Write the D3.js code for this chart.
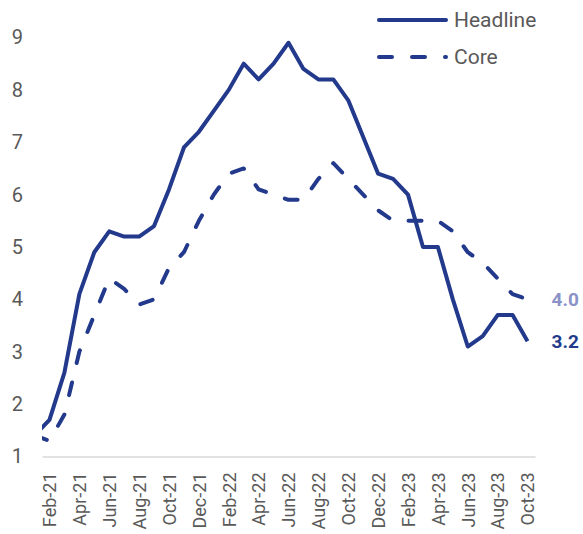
<!DOCTYPE html>
<html>
<head>
<meta charset="utf-8">
<script src="https://cdn.jsdelivr.net/npm/d3@7"></script>
<style>
  body { margin: 0; background: #fff; }
  text { font-family: Roboto, "Open Sans", sans-serif; }
</style>
</head>
<body>
<div id="chart"></div>
<script>
// Monthly y/y inflation, Jan-21 is partly cut off at the left edge
const months = [
  "Jan-21", "Feb-21", "Mar-21", "Apr-21", "May-21", "Jun-21", "Jul-21", "Aug-21", "Sep-21", "Oct-21", "Nov-21", "Dec-21",
  "Jan-22", "Feb-22", "Mar-22", "Apr-22", "May-22", "Jun-22", "Jul-22", "Aug-22", "Sep-22", "Oct-22", "Nov-22", "Dec-22",
  "Jan-23", "Feb-23", "Mar-23", "Apr-23", "May-23", "Jun-23", "Jul-23", "Aug-23", "Sep-23", "Oct-23"
];
const headline = [
  1.4, 1.7, 2.6, 4.1, 4.9, 5.3, 5.2, 5.2, 5.4, 6.1, 6.9, 7.2,
  7.6, 8.0, 8.5, 8.2, 8.5, 8.9, 8.4, 8.2, 8.2, 7.8, 7.1, 6.4,
  6.3, 6.0, 5.0, 5.0, 4.0, 3.1, 3.3, 3.7, 3.7, 3.2
];
const core = [
  1.4, 1.3, 1.8, 3.0, 3.7, 4.4, 4.2, 3.9, 4.0, 4.6, 4.9, 5.5,
  6.0, 6.4, 6.5, 6.1, 6.0, 5.9, 5.9, 6.3, 6.6, 6.3, 6.0, 5.7,
  5.5, 5.5, 5.5, 5.5, 5.3, 4.9, 4.7, 4.4, 4.1, 4.0
];
const xTickLabels = [
  "Feb-21", "Apr-21", "Jun-21", "Aug-21", "Oct-21", "Dec-21", "Feb-22", "Apr-22", "Jun-22",
  "Aug-22", "Oct-22", "Dec-22", "Feb-23", "Apr-23", "Jun-23", "Aug-23", "Oct-23"
];
const yTicks = [1, 2, 3, 4, 5, 6, 7, 8, 9];
const seriesNames = ["Headline", "Core"];

const W = 583, H = 534;
const plot = { left: 42, right: 535, top: 37.5, bottom: 456.5 };
const navy = "#22398c";
const light = "#8a92c7";
const grey = "#595959";

const svg = d3.select("#chart").append("svg")
  .attr("width", W)
  .attr("height", H);

// Scales (index 1 = Feb-21 sits half a step in from the left edge)
const x = d3.scaleLinear()
  .domain([0.5, months.length - 0.5])
  .range([plot.left, plot.right]);
const y = d3.scaleLinear()
  .domain([1, 9])
  .range([plot.bottom, plot.top]);

svg.append("clipPath").attr("id", "plot-clip")
  .append("rect")
  .attr("x", plot.left)
  .attr("y", 0)
  .attr("width", plot.right - plot.left + 20)
  .attr("height", H);

// X axis
const xAxis = svg.append("g")
  .attr("transform", `translate(0,${plot.bottom})`)
  .call(d3.axisBottom(x)
    .tickValues(xTickLabels.map(m => months.indexOf(m)))
    .tickFormat(i => months[i])
    .tickSize(0));
xAxis.select(".domain").attr("stroke", "#d9d9d9").attr("stroke-width", 1.5);
xAxis.selectAll("text")
  .attr("transform", "rotate(-90)")
  .attr("x", -16)
  .attr("y", 0)
  .attr("dy", "0.35em")
  .attr("text-anchor", "end")
  .attr("fill", grey)
  .style("font-size", "18px");

// Y axis
const yAxis = svg.append("g")
  .attr("transform", `translate(${plot.left},0)`)
  .call(d3.axisLeft(y).tickValues(yTicks).tickSize(0).tickPadding(19));
yAxis.select(".domain").remove();
yAxis.selectAll("text")
  .attr("fill", grey)
  .style("font-size", "20px");

// Lines
const line = d3.line()
  .x((d, i) => x(i))
  .y(d => y(d));

const lines = svg.append("g").attr("clip-path", "url(#plot-clip)");
lines.append("path")
  .datum(core)
  .attr("d", line)
  .attr("fill", "none")
  .attr("stroke", navy)
  .attr("stroke-width", 4)
  .attr("stroke-linecap", "round")
  .attr("stroke-linejoin", "round")
  .attr("stroke-dasharray", "13,20");
lines.append("path")
  .datum(headline)
  .attr("d", line)
  .attr("fill", "none")
  .attr("stroke", navy)
  .attr("stroke-width", 4)
  .attr("stroke-linejoin", "round");

// End labels
const last = months.length - 1;
svg.append("text")
  .attr("x", x(last) + 24)
  .attr("y", y(core[last]))
  .attr("dy", "0.35em")
  .attr("fill", light)
  .style("font-size", "19px")
  .style("font-weight", "bold")
  .text(core[last].toFixed(1));
svg.append("text")
  .attr("x", x(last) + 24)
  .attr("y", y(headline[last]))
  .attr("dy", "0.35em")
  .attr("fill", navy)
  .style("font-size", "19px")
  .style("font-weight", "bold")
  .text(headline[last].toFixed(1));

// Legend
const legend = svg.append("g").attr("transform", "translate(377,20)");
seriesNames.forEach((name, i) => {
  const row = legend.append("g").attr("transform", `translate(0,${i * 37})`);
  row.append("line")
    .attr("x1", 2).attr("x2", 69)
    .attr("stroke", navy)
    .attr("stroke-width", 4)
    .attr("stroke-linecap", "round")
    .attr("stroke-dasharray", i === 0 ? null : "13,20");
  row.append("text")
    .attr("x", 77)
    .attr("dy", "0.35em")
    .attr("fill", grey)
    .style("font-size", "21px")
    .text(name);
});
</script>
</body>
</html>
